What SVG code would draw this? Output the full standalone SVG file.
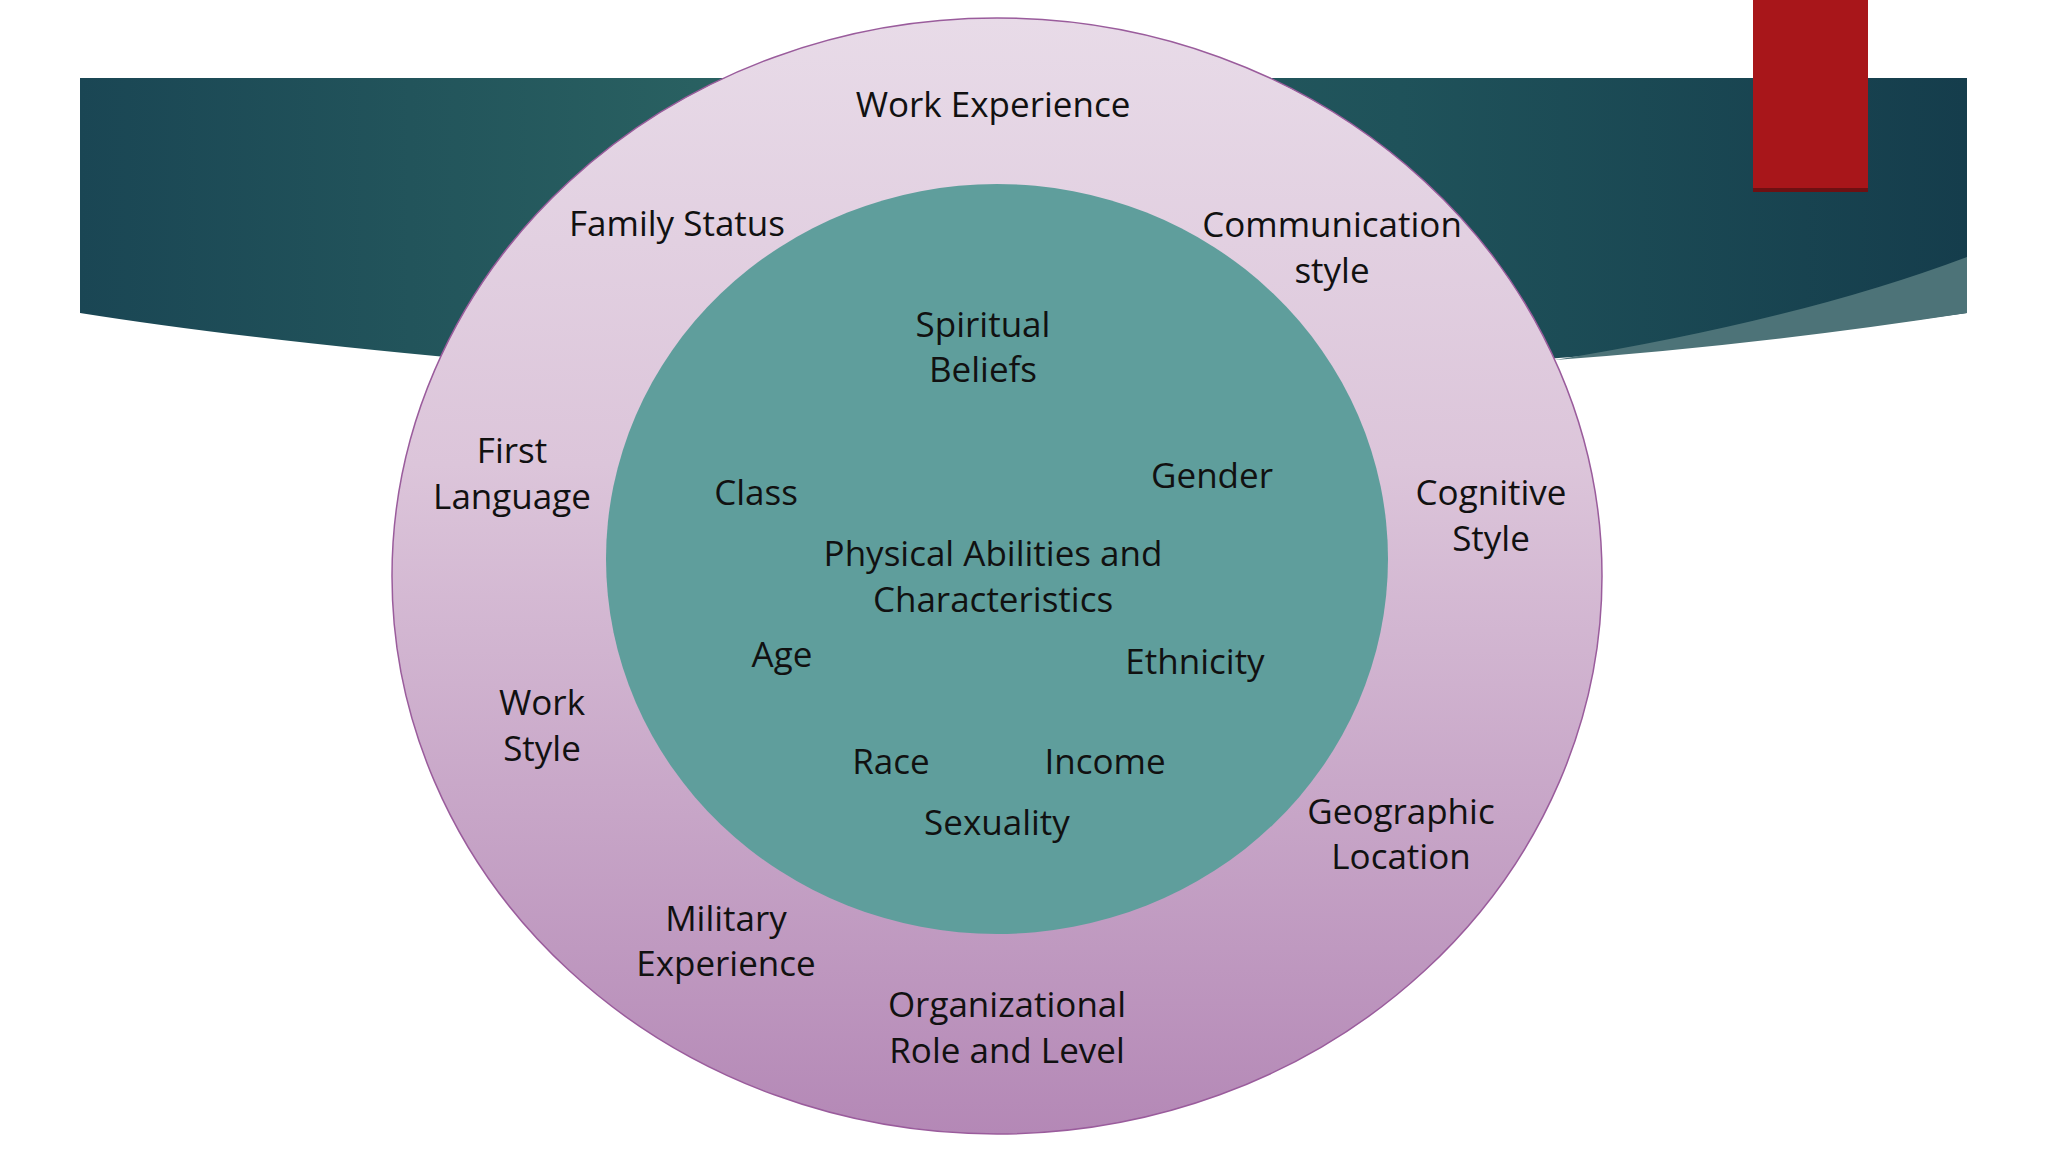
<svg xmlns="http://www.w3.org/2000/svg" width="2048" height="1152" viewBox="0 0 2048 1152">
<defs>
<linearGradient id="ban" x1="0" y1="0" x2="1" y2="0">
<stop offset="0" stop-color="#1a4654"/><stop offset="0.35" stop-color="#2a6262"/><stop offset="0.7" stop-color="#1f525a"/><stop offset="1" stop-color="#153d4c"/>
</linearGradient>
<linearGradient id="outer" x1="0" y1="0" x2="0" y2="1">
<stop offset="0" stop-color="#e8dbe8"/><stop offset="0.4" stop-color="#dcc5da"/><stop offset="1" stop-color="#b488b6"/>
</linearGradient>
<style>
text{font-family:"Open Sans","Noto Sans",sans-serif;font-size:35px;fill:#111;text-anchor:middle;dominant-baseline:central}
</style>
</defs>
<rect width="2048" height="1152" fill="#fff"/>
<path d="M80 78 H1967 V313 Q1700 350 1500 362 L500 362 Q250 340 80 313 Z" fill="url(#ban)"/>
<path d="M1555 360 Q1800 320 1967 257 V313 Q1760 345 1555 360 Z" fill="#4d7378"/>
<rect x="1753" y="0" width="115" height="192" fill="#a8161a"/>
<rect x="1753" y="188" width="115" height="4" fill="#6e1012"/>
<g id="outer-circle"><ellipse cx="997" cy="576" rx="605" ry="558" fill="url(#outer)" stroke="#9a5c9c" stroke-width="1.5"/></g>
<g id="inner-circle"><ellipse cx="997" cy="559" rx="391" ry="375" fill="#5f9e9c"/></g>
<g id="connectors"/>
<g id="outer-labels">
<text x="993" y="103">Work Experience</text>
<text x="677" y="222">Family Status</text>
<text x="1332" y="223">Communication</text><text x="1332" y="269">style</text>
<text x="512" y="449">First</text><text x="512" y="495">Language</text>
<text x="1491" y="491">Cognitive</text><text x="1491" y="537">Style</text>
<text x="542" y="701">Work</text><text x="542" y="747">Style</text>
<text x="1401" y="810">Geographic</text><text x="1401" y="855">Location</text>
<text x="726" y="917">Military</text><text x="726" y="962">Experience</text>
<text x="1007" y="1003">Organizational</text><text x="1007" y="1049">Role and Level</text>
</g>
<g id="inner-labels">
<text x="983" y="323">Spiritual</text><text x="983" y="368">Beliefs</text>
<text x="756" y="491">Class</text>
<text x="1212" y="474">Gender</text>
<text x="993" y="552">Physical Abilities and</text><text x="993" y="598">Characteristics</text>
<text x="782" y="653">Age</text>
<text x="1195" y="660">Ethnicity</text>
<text x="891" y="760">Race</text>
<text x="1105" y="760">Income</text>
<text x="997" y="821">Sexuality</text>
</g>
</svg>
